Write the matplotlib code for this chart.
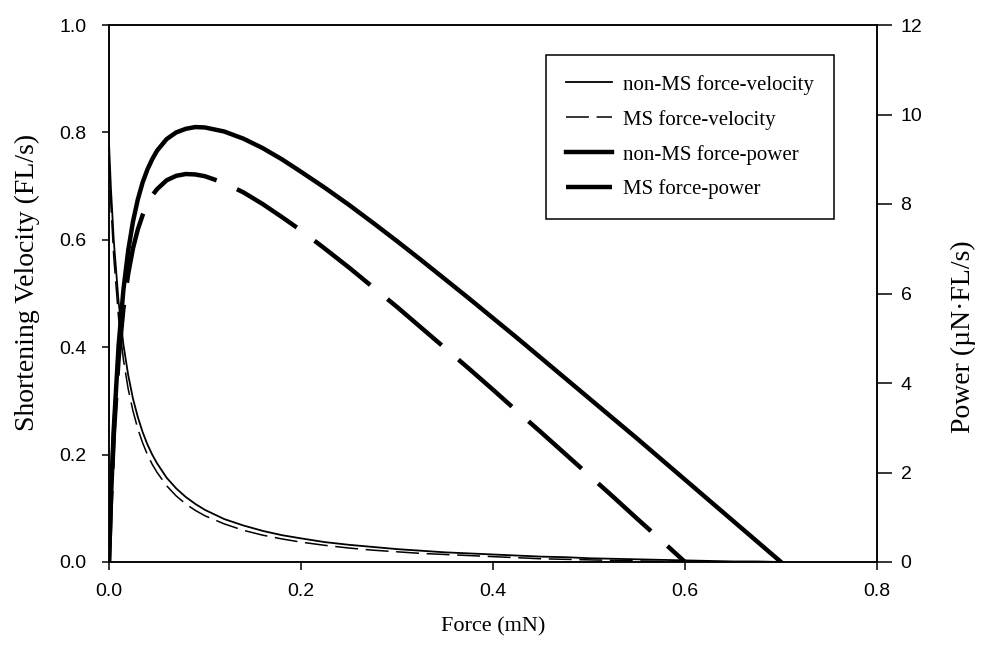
import matplotlib
matplotlib.use('Agg')
import matplotlib.pyplot as plt
from matplotlib.ticker import FormatStrFormatter

force = [0, 0.002, 0.005, 0.01, 0.015, 0.02, 0.025, 0.03, 0.035, 0.04,
         0.045, 0.05, 0.06, 0.07, 0.08, 0.09, 0.10, 0.12, 0.14, 0.16,
         0.18, 0.20, 0.225, 0.25, 0.275, 0.30, 0.325, 0.35, 0.375, 0.40,
         0.425, 0.45, 0.475, 0.50, 0.525, 0.55, 0.575, 0.60, 0.625, 0.65,
         0.675, 0.70]
force_ms = force[:38]  # MS curves end at 0.6 mN

# shortening velocity (FL/s)
vel_non_ms = [0.780, 0.696, 0.598, 0.484, 0.405, 0.348, 0.304, 0.270, 0.242, 0.219,
              0.200, 0.184, 0.157, 0.137, 0.121, 0.108, 0.097, 0.080, 0.068, 0.058,
              0.050, 0.044, 0.037, 0.032, 0.028, 0.024, 0.021, 0.018, 0.016, 0.014,
              0.012, 0.010, 0.009, 0.007, 0.006, 0.005, 0.004, 0.003, 0.002, 0.001,
              0.001, 0.0]
vel_ms = [0.750, 0.664, 0.567, 0.454, 0.377, 0.322, 0.281, 0.248, 0.222, 0.200,
          0.182, 0.167, 0.142, 0.123, 0.108, 0.096, 0.086, 0.071, 0.059, 0.050,
          0.043, 0.037, 0.031, 0.026, 0.022, 0.019, 0.016, 0.014, 0.012, 0.010,
          0.008, 0.006, 0.005, 0.004, 0.003, 0.002, 0.001, 0.0]

# power (uN.FL/s)
pow_non_ms = [0.0, 1.39, 2.99, 4.84, 6.08, 6.96, 7.61, 8.10, 8.48, 8.77,
              9.00, 9.19, 9.45, 9.60, 9.68, 9.72, 9.71, 9.62, 9.46, 9.25,
              9.00, 8.72, 8.36, 7.98, 7.58, 7.17, 6.75, 6.32, 5.89, 5.45,
              5.01, 4.56, 4.11, 3.66, 3.21, 2.76, 2.30, 1.84, 1.38, 0.92,
              0.46, 0.0]
pow_ms = [0.0, 1.33, 2.83, 4.54, 5.66, 6.44, 7.01, 7.43, 7.75, 8.00,
          8.19, 8.33, 8.53, 8.63, 8.67, 8.66, 8.62, 8.47, 8.26, 8.00,
          7.71, 7.41, 7.00, 6.58, 6.14, 5.70, 5.24, 4.78, 4.32, 3.85,
          3.37, 2.90, 2.42, 1.94, 1.46, 0.97, 0.49, 0.0]

labels = ['non-MS force-velocity', 'MS force-velocity',
          'non-MS force-power', 'MS force-power']

serif = 'Liberation Serif'
sans = 'Liberation Sans'

fig = plt.figure(figsize=(9.82, 6.58), dpi=100)
ax = fig.add_axes([109/982, 1 - 562/658, 768/982, 537/658])
ax2 = ax.twinx()

l1, = ax.plot(force, vel_non_ms, color='black', lw=1.3)
l2, = ax.plot(force_ms, vel_ms, color='black', lw=1.1, ls=(0, (15, 5)))
l3, = ax2.plot(force, pow_non_ms, color='black', lw=3.2)
l4, = ax2.plot(force_ms, pow_ms, color='black', lw=3.2, ls=(0, (16, 5)))

ax.set_xlim(0, 0.8)
ax.set_ylim(0, 1.0)
ax2.set_ylim(0, 12)
ax.set_xticks([0, 0.2, 0.4, 0.6, 0.8])
ax.set_yticks([0, 0.2, 0.4, 0.6, 0.8, 1.0])
ax2.set_yticks([0, 2, 4, 6, 8, 10, 12])
ax.xaxis.set_major_formatter(FormatStrFormatter('%.1f'))
ax.yaxis.set_major_formatter(FormatStrFormatter('%.1f'))

for a in (ax, ax2):
    for s in a.spines.values():
        s.set_linewidth(1.1)
ax.tick_params(axis='x', direction='out', length=6, width=1.1, pad=9,
               labelsize=14)
ax.tick_params(axis='y', direction='out', length=5, width=1.1, pad=11,
               labelsize=14)
ax2.tick_params(axis='y', direction='out', length=11, width=1.1, pad=6,
                labelsize=14)
for t in ax.get_xticklabels() + ax.get_yticklabels() + ax2.get_yticklabels():
    t.set_fontfamily(sans)

ax.set_xlabel('Force (mN)', fontfamily=serif, fontsize=16)
ax.set_ylabel('Shortening Velocity (FL/s)', fontfamily=serif, fontsize=20)
ax2.set_ylabel('Power (\u00b5N\u00b7FL/s)', fontfamily=serif, fontsize=20)
ax.xaxis.set_label_coords(0.5, -0.102)
ax.yaxis.set_label_coords(-0.09, 0.52)
ax2.yaxis.set_label_coords(1.096, 0.42)

leg = ax2.legend([l1, l2, l3, l4], labels, loc='upper left',
                 bbox_to_anchor=(546/982, 1 - 55/658),
                 bbox_transform=fig.transFigure, borderaxespad=0,
                 prop={'family': serif, 'size': 15}, handlelength=2.2,
                 handletextpad=0.55, labelspacing=0.72, borderpad=0.95,
                 fancybox=False, framealpha=1, edgecolor='black')
leg.get_frame().set_linewidth(1.1)

fig.savefig('out.png', dpi=100)
